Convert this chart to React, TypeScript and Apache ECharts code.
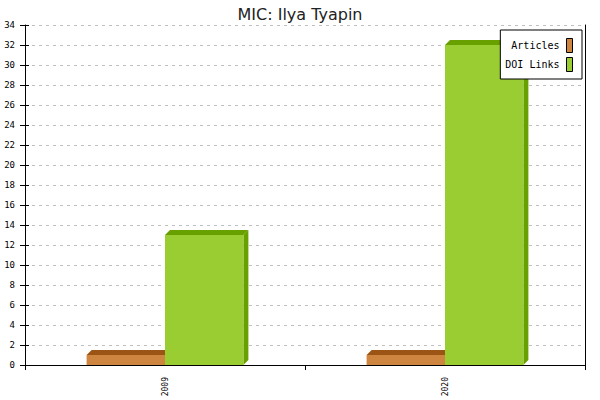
import React, { useRef, useEffect } from 'react';
import * as echarts from 'echarts';

const categories = ['2009', '2020'];
const articles = [1, 1];
const doiLinks = [13, 32];
const yMin = 0;
const yMax = 34;
const yStep = 2;

const MONO = '"DejaVu Sans Mono", monospace';

// 3D-ish bar: front face, top face, right side face
const make3dBar = (side: 'left' | 'right', front: string, dark: string) =>
  (params: any, api: any) => {
    const cat = api.value(0);
    const val = api.value(1);
    const base = api.coord([cat, 0]);
    const top = api.coord([cat, val]);
    const band = api.size([1, 0])[0];
    const w = band * 0.28;
    const d = 5;
    const x0 = side === 'left' ? base[0] - w : base[0];
    const x1 = x0 + w;
    const yt = top[1];
    const yb = base[1];
    return {
      type: 'group',
      children: [
        {
          type: 'polygon',
          shape: { points: [[x1, yt], [x1 + d, yt - d], [x1 + d, yb - d], [x1, yb]] },
          style: { fill: dark },
        },
        {
          type: 'polygon',
          shape: { points: [[x0, yt], [x0 + d, yt - d], [x1 + d, yt - d], [x1, yt]] },
          style: { fill: dark },
        },
        {
          type: 'rect',
          shape: { x: x0, y: yt, width: w, height: yb - yt },
          style: { fill: front },
        },
      ],
    };
  };

const App: React.FC = () => {
  const chartRef = useRef<HTMLDivElement>(null);

  useEffect(() => {
    if (!chartRef.current) return;
    const chart = echarts.init(chartRef.current, undefined, { renderer: 'svg' });

    const option: any = {
      animation: false,
      backgroundColor: '#fff',
      title: {
        text: 'MIC: Ilya Tyapin',
        left: 'center',
        top: 1,
        textStyle: {
          fontFamily: '"DejaVu Sans", sans-serif',
          fontSize: 16,
          fontWeight: 'normal',
          color: '#222',
        },
      },
      legend: {
        orient: 'vertical',
        right: 18,
        top: 30,
        align: 'right',
        backgroundColor: '#fff',
        borderColor: '#000',
        borderWidth: 1,
        borderRadius: 0,
        padding: [8, 9, 7, 5],
        itemWidth: 6,
        itemHeight: 14,
        itemGap: 4,
        icon: 'rect',
        itemStyle: { borderColor: '#000', borderWidth: 1 },
        textStyle: { fontFamily: MONO, fontSize: 10, color: '#000', padding: [0, 2, 0, 0] },
        data: ['Articles', 'DOI Links'],
      },
      grid: { left: 25, right: 15, top: 25, bottom: 35, outerBoundsMode: 'none' },
      xAxis: {
        type: 'category',
        data: categories,
        boundaryGap: true,
        axisLine: { lineStyle: { color: '#000', width: 1 } },
        axisTick: { show: true, length: 5, alignWithLabel: false, lineStyle: { color: '#000' } },
        axisLabel: {
          rotate: 90,
          margin: 12,
          fontFamily: MONO,
          fontSize: 8,
          color: '#000',
        },
        splitLine: { show: false },
      },
      yAxis: [
        {
          type: 'value',
          min: yMin,
          max: yMax,
          interval: yStep,
          axisLine: { show: true, lineStyle: { color: '#000', width: 1 } },
          axisTick: { show: true, length: 5, lineStyle: { color: '#000' } },
          axisLabel: { margin: 10, fontFamily: MONO, fontSize: 9, color: '#000' },
          splitLine: { show: true, lineStyle: { color: '#c0c0c0', type: [3, 4], width: 1 } },
        },
        {
          type: 'value',
          min: yMin,
          max: yMax,
          interval: yStep,
          position: 'left',
          axisLine: { show: false },
          axisTick: { show: true, inside: true, length: 4, lineStyle: { color: '#000' } },
          axisLabel: { show: false },
          splitLine: { show: false },
        },
        {
          type: 'value',
          min: yMin,
          max: yMax,
          interval: yStep,
          position: 'right',
          axisLine: { show: true, lineStyle: { color: '#000', width: 1 } },
          axisTick: { show: false },
          axisLabel: { show: false },
          splitLine: { show: false },
        },
      ],
      series: [
        {
          name: 'Articles',
          type: 'custom',
          renderItem: make3dBar('left', '#cd853f', '#9c5414'),
          itemStyle: { color: '#cd853f' },
          encode: { x: 0, y: 1 },
          data: articles.map((v, i) => [i, v]),
          z: 2,
        },
        {
          name: 'DOI Links',
          type: 'custom',
          renderItem: make3dBar('right', '#9acd32', '#68a000'),
          itemStyle: { color: '#9acd32' },
          encode: { x: 0, y: 1 },
          data: doiLinks.map((v, i) => [i, v]),
          z: 3,
        },
      ],
    };

    chart.setOption(option);
    return () => {
      chart.dispose();
    };
  }, []);

  return (
    <div
      ref={chartRef}
      style={{ position: 'absolute', left: 0, top: 0, width: 600, height: 400 }}
    />
  );
};

export default App;
